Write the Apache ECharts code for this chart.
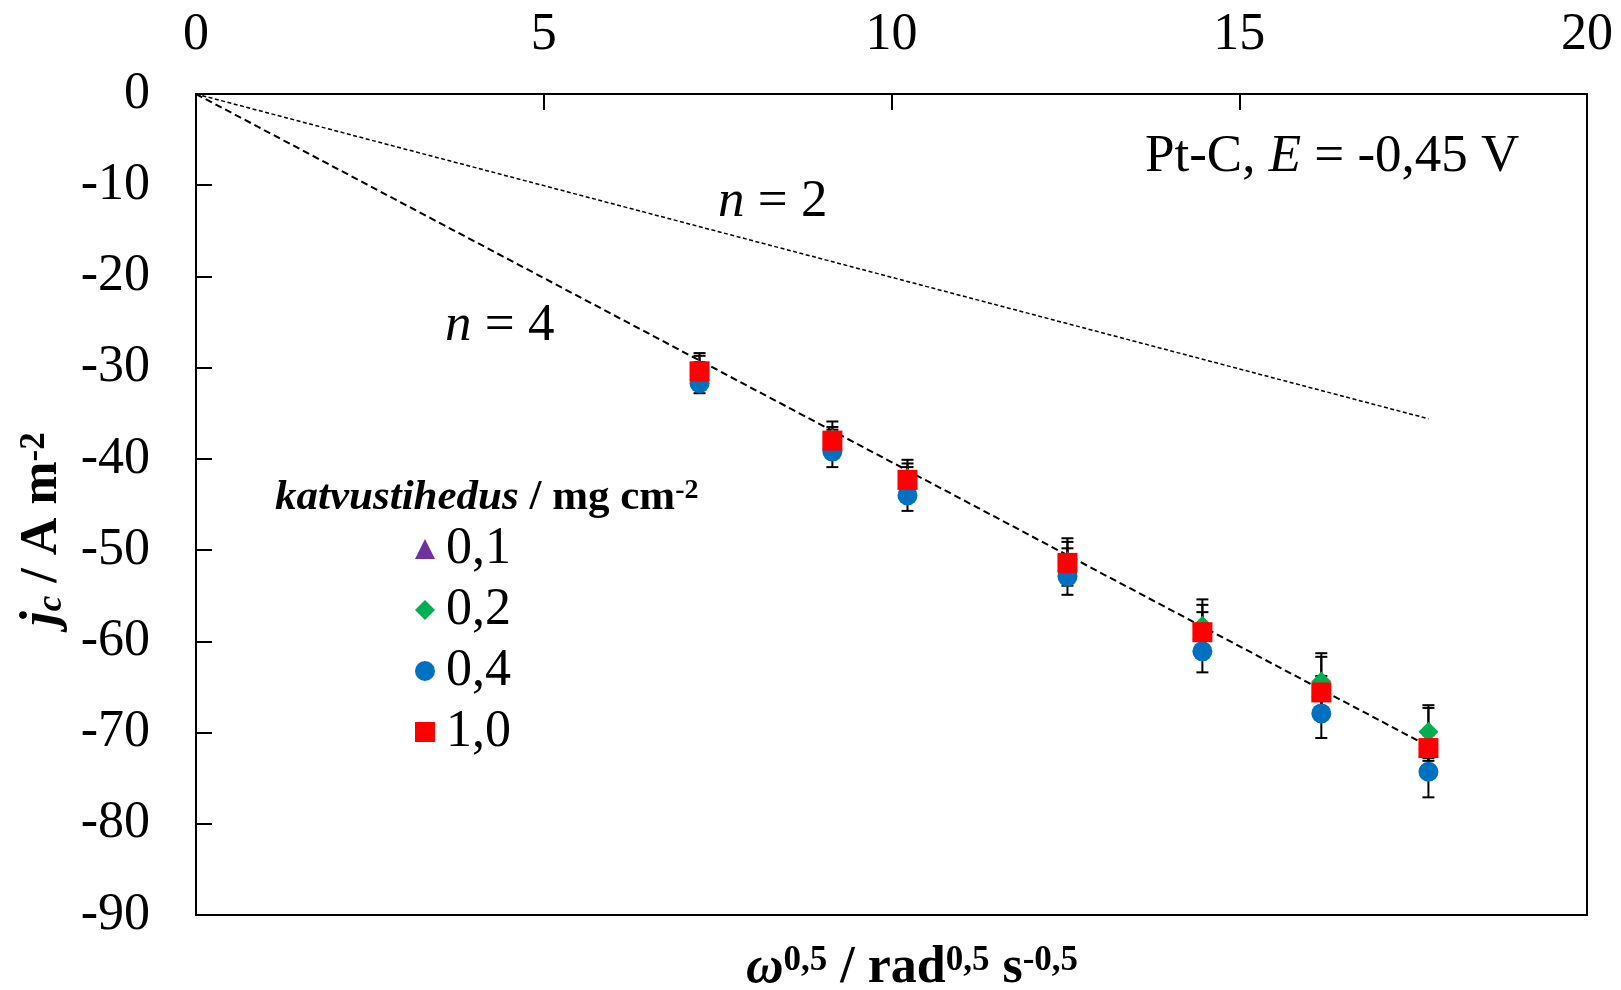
<!DOCTYPE html>
<html>
<head>
<meta charset="utf-8">
<script src="https://cdn.jsdelivr.net/npm/echarts@6/dist/echarts.min.js"></script>
<style>
html,body{margin:0;padding:0;background:#fff;}
#chart{width:1621px;height:990px;}
</style>
</head>
<body>
<div id="chart"></div>
<script>
// ---- data ----
const xVals = [7.24, 9.15, 10.23, 12.53, 14.47, 16.18, 17.72];
const seriesNames = ['0,1', '0,2', '0,4', '1,0'];
const yPurple = [-30.3, -37.9, -42.2, -51.2, -58.7, -65.0, -70.8];
const ePurple = [1.6, 1.4, 1.7, 2.1, 2.7, 3.3, 3.5];
const yGreen  = [-30.3, -37.8, -42.1, -51.3, -58.3, -64.4, -69.9];
const eGreen  = [1.9, 1.9, 2.0, 2.6, 2.9, 3.1, 2.9];
const yBlue   = [-31.7, -39.2, -44.0, -52.9, -61.1, -67.9, -74.3];
const eBlue   = [1.1, 1.7, 1.7, 2.0, 2.3, 2.7, 2.8];
const yRed    = [-30.4, -38.0, -42.3, -51.4, -59.0, -65.6, -71.7];
const eRed    = [1.0, 1.2, 1.4, 1.6, 2.2, 1.8, 1.4];
const lineX   = [0, 17.72];
const lineN4  = [0, -71.5];
const lineN2  = [0, -35.6];
const xTicks  = {min: 0, max: 20, interval: 5};
const yTicks  = {min: -90, max: 0, interval: 10};

const FONT = "'Liberation Serif', 'Times New Roman', serif";
const colors = ['#7030A0', '#00B050', '#0070C0', '#FF0000'];
const symbols = ['triangle', 'diamond', 'circle', 'rect'];
const yData = [yPurple, yGreen, yBlue, yRed];
const eData = [ePurple, eGreen, eBlue, eRed];

function pts(xs, ys) { return xs.map((x, i) => [x, ys[i]]); }

function errRender(params, api) {
  const x = api.value(0), lo = api.value(1), hi = api.value(2);
  const a = api.coord([x, lo]), b = api.coord([x, hi]);
  const w = 6;
  const st = {stroke: '#000', lineWidth: 2};
  return {type: 'group', children: [
    {type: 'line', shape: {x1: a[0], y1: a[1], x2: b[0], y2: b[1]}, style: st},
    {type: 'line', shape: {x1: a[0] - w, y1: a[1], x2: a[0] + w, y2: a[1]}, style: st},
    {type: 'line', shape: {x1: b[0] - w, y1: b[1], x2: b[0] + w, y2: b[1]}, style: st}
  ]};
}

const series = [];
for (let k = 0; k < 4; k++) {
  series.push({
    type: 'custom', name: 'err' + k, renderItem: errRender, z: 2, silent: true,
    encode: {x: 0, y: [1, 2]},
    data: xVals.map((x, i) => [x, yData[k][i] - eData[k][i], yData[k][i] + eData[k][i]])
  });
}
series.push({type: 'line', name: 'n4', data: pts(lineX, lineN4), symbol: 'none', z: 2, silent: true,
  lineStyle: {color: '#000', width: 2, type: [7, 4]}});
series.push({type: 'line', name: 'n2', data: pts(lineX, lineN2), symbol: 'none', z: 2, silent: true,
  lineStyle: {color: '#000', width: 1.5, type: [4, 2.5]}});
for (let k = 0; k < 4; k++) {
  series.push({
    type: 'scatter', name: seriesNames[k], symbol: symbols[k], symbolSize: 20, z: 3,
    itemStyle: {color: colors[k], opacity: 1},
    data: pts(xVals, yData[k])
  });
}

const chart = echarts.init(document.getElementById('chart'), null, {renderer: 'canvas'});
chart.setOption({
  backgroundColor: '#fff',
  animation: false,
  grid: {left: 196, top: 94, right: 34, bottom: 75, show: true, borderColor: '#000', borderWidth: 2, backgroundColor: 'transparent'},
  xAxis: {
    type: 'value', position: 'top', min: xTicks.min, max: xTicks.max, interval: xTicks.interval,
    axisLine: {show: true, lineStyle: {color: '#000', width: 2}},
    axisTick: {show: true, inside: true, length: 16, lineStyle: {color: '#000', width: 2}},
    axisLabel: {fontFamily: FONT, fontSize: 52, color: '#000', margin: 33},
    splitLine: {show: false}
  },
  yAxis: {
    type: 'value', min: yTicks.min, max: yTicks.max, interval: yTicks.interval,
    axisLine: {show: true, onZero: false, lineStyle: {color: '#000', width: 2}},
    axisTick: {show: true, inside: true, length: 16, lineStyle: {color: '#000', width: 2}},
    axisLabel: {fontFamily: FONT, fontSize: 52, color: '#000', margin: 46},
    splitLine: {show: false}
  },
  legend: {
    orient: 'vertical', left: 410, top: 518, itemWidth: 20, itemHeight: 20, itemGap: 9,
    selectedMode: false,
    data: seriesNames.map((n, k) => ({name: n, icon: symbols[k]})),
    textStyle: {fontFamily: FONT, fontSize: 52, color: '#000', lineHeight: 52, padding: [0, 0, 0, 6]}
  },
  graphic: [
    {type: 'text', x: 1145, y: 157, silent: true, style: {
      text: '{a|Pt-C, }{i|E}{a| = -0,45 V}', align: 'left', verticalAlign: 'middle',
      textAlign: 'left', textVerticalAlign: 'middle',
      rich: {a: {fontFamily: FONT, fontSize: 53, color: '#000'},
             i: {fontFamily: FONT, fontSize: 53, fontStyle: 'italic', color: '#000'}}
    }},
    {type: 'text', x: 718, y: 202, silent: true, style: {
      text: '{i|n}{a| = 2}', align: 'left', verticalAlign: 'middle', textAlign: 'left', textVerticalAlign: 'middle',
      rich: {a: {fontFamily: FONT, fontSize: 53, color: '#000'},
             i: {fontFamily: FONT, fontSize: 53, fontStyle: 'italic', color: '#000'}}
    }},
    {type: 'text', x: 445, y: 326, silent: true, style: {
      text: '{i|n}{a| = 4}', align: 'left', verticalAlign: 'middle', textAlign: 'left', textVerticalAlign: 'middle',
      rich: {a: {fontFamily: FONT, fontSize: 53, color: '#000'},
             i: {fontFamily: FONT, fontSize: 53, fontStyle: 'italic', color: '#000'}}
    }},
    {type: 'text', x: 275, y: 498, silent: true, style: {
      text: '{bi|katvustihedus}{b| / mg cm}{sup|-2}', align: 'left', verticalAlign: 'middle', textAlign: 'left', textVerticalAlign: 'middle',
      rich: {bi: {fontFamily: FONT, fontSize: 43, fontStyle: 'italic', fontWeight: 'bold', color: '#000'},
             b: {fontFamily: FONT, fontSize: 43, fontWeight: 'bold', color: '#000'},
             sup: {fontFamily: FONT, fontSize: 28, fontWeight: 'bold', color: '#000', verticalAlign: 'top'}}
    }},
    {type: 'text', x: 912, y: 969, silent: true, style: {
      text: '{bi|ω}{sup|0,5}{b| / rad}{sup|0,5}{b| s}{sup|-0,5}', align: 'center', verticalAlign: 'middle', textAlign: 'center', textVerticalAlign: 'middle',
      rich: {bi: {fontFamily: FONT, fontSize: 52, fontStyle: 'italic', fontWeight: 'bold', color: '#000'},
             b: {fontFamily: FONT, fontSize: 52, fontWeight: 'bold', color: '#000'},
             sup: {fontFamily: FONT, fontSize: 35, fontWeight: 'bold', color: '#000', verticalAlign: 'top'}}
    }},
    {type: 'text', x: 43, y: 529, rotation: Math.PI / 2, silent: true, style: {
      text: '{bi|j}{sub|c}{b| / A m}{sup|-2}', align: 'center', verticalAlign: 'middle', textAlign: 'center', textVerticalAlign: 'middle',
      rich: {bi: {fontFamily: FONT, fontSize: 52, fontStyle: 'italic', fontWeight: 'bold', color: '#000'},
             sub: {fontFamily: FONT, fontSize: 35, fontStyle: 'italic', fontWeight: 'bold', color: '#000', verticalAlign: 'bottom'},
             b: {fontFamily: FONT, fontSize: 52, fontWeight: 'bold', color: '#000'},
             sup: {fontFamily: FONT, fontSize: 35, fontWeight: 'bold', color: '#000', verticalAlign: 'top'}}
    }}
  ],
  series: series
});
</script>
</body>
</html>
